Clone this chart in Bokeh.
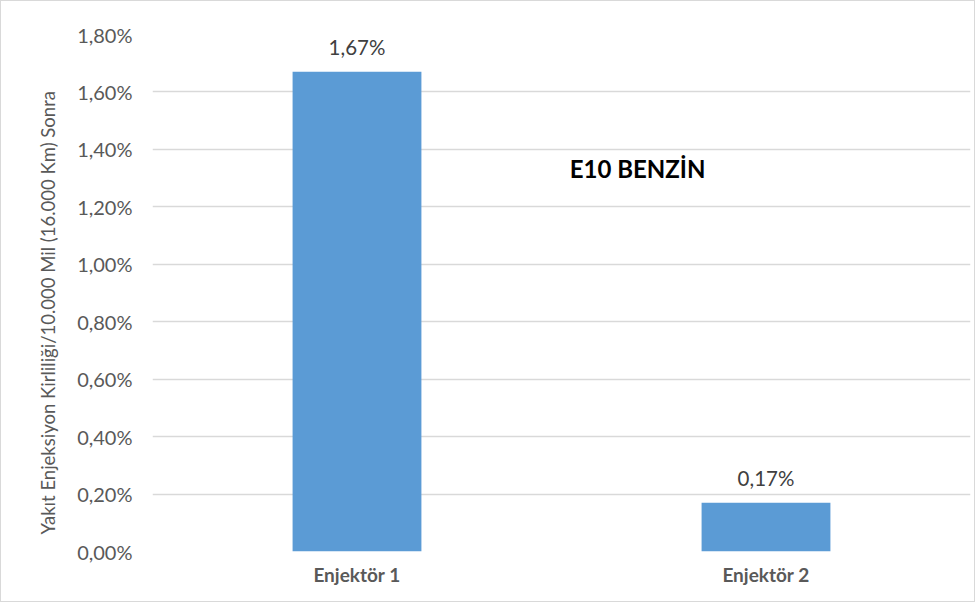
from bokeh.plotting import figure
from bokeh.models import (ColumnDataSource, FactorRange, Range1d, FixedTicker,
                          CustomJSTickFormatter, LabelSet, Label, Title)
from bokeh.core.properties import value
from bokeh.embed import file_html
from bokeh.resources import INLINE

categories = ["Enjektör 1", "Enjektör 2"]
values = [1.67, 0.17]  # percent
y_ticks = [0.0, 0.2, 0.4, 0.6, 0.8, 1.0, 1.2, 1.4, 1.6, 1.8]
y_title = "Yakıt Enjeksiyon Kirliliği/10.000 Mil (16.000 Km) Sonra"
chart_note = "E10 BENZİN"

labels = [f"{v:.2f}".replace(".", ",") + "%" for v in values]
src = ColumnDataSource(dict(cat=categories, val=values, lab=labels))

FONT = "Lato"

p = figure(width=975, height=602, x_range=FactorRange(*categories, range_padding=0),
           y_range=Range1d(0, 1.8), output_backend="svg", toolbar_location=None,
           min_border_left=151, min_border_top=33, min_border_right=6, min_border_bottom=52,
           styles={"border": "1px solid #D9D9D9"})
p.outline_line_color = None
p.background_fill_color = "white"
p.border_fill_color = "white"

p.vbar(x="cat", top="val", width=0.315, source=src, fill_color="#5B9BD5", line_color=None)

p.xgrid.grid_line_color = None
p.ygrid.grid_line_color = "#D9D9D9"
p.ygrid.grid_line_width = 1.5
p.ygrid.ticker = FixedTicker(ticks=y_ticks)

ya = p.yaxis[0]
ya.ticker = FixedTicker(ticks=y_ticks)
ya.formatter = CustomJSTickFormatter(code="return tick.toFixed(2).replace('.', ',') + '%';")
ya.axis_line_color = None
ya.major_tick_line_color = None
ya.minor_tick_line_color = None
ya.major_label_text_font = FONT
ya.major_label_text_font_size = "20px"
ya.major_label_text_color = "#595959"
ya.major_label_standoff = 14

xa = p.xaxis[0]
xa.axis_line_color = None
xa.major_tick_line_color = None
xa.minor_tick_line_color = None
xa.major_label_text_font = FONT
xa.major_label_text_font_size = "19px"
xa.major_label_text_font_style = "bold"
xa.major_label_text_color = "#595959"
xa.major_label_standoff = 5

p.add_layout(LabelSet(x="cat", y="val", text="lab", source=src, text_align="center",
                      text_baseline="bottom", y_offset=13, text_font=value(FONT),
                      text_font_size=value("20.5px"), text_color=value("#404040")))

p.add_layout(Label(x=1.02, y=1.333, text=chart_note, text_align="left", text_baseline="middle",
                   text_font=FONT, text_font_size="24px", text_font_style="bold",
                   text_color="#000000"))

p.add_layout(Title(text=y_title, align="left", offset=17, standoff=31,
                   text_font=FONT, text_font_size="18.5px", text_font_style="normal",
                   text_color="#595959"), "left")

open("out.html", "w").write(file_html(p, INLINE))
